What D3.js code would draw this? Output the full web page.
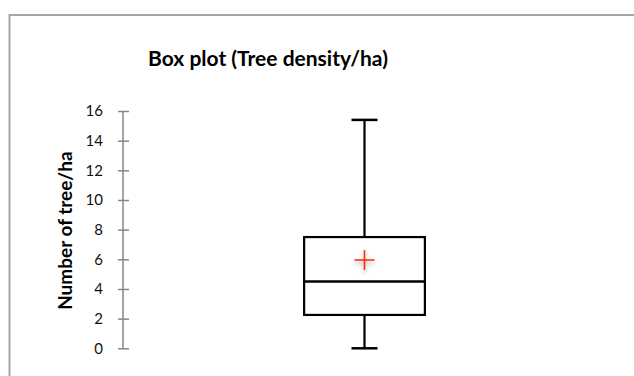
<!DOCTYPE html>
<html lang="en">
<head>
<meta charset="UTF-8">
<title>Box plot (Tree density/ha)</title>
<script src="https://cdn.jsdelivr.net/npm/d3@7"></script>
<style>
  body { margin: 0; background: #fff; font-family: Lato, 'Open Sans', sans-serif; }
  .axis line { stroke: #868686; stroke-width: 1.5px; }
  .axis text { fill: #111; font-size: 15px; font-family: Lato, sans-serif; }
</style>
</head>
<body>
<div id="chart"></div>
<script>
// data
const categories = ['Tree density/ha'];
const minValues = [0];
const q1Values = [2.25];
const medianValues = [4.5];
const q3Values = [7.5];
const maxValues = [15.4];
const meanValues = [5.95];
const yTicks = [0, 2, 4, 6, 8, 10, 12, 14, 16];

const width = 634, height = 376;
const margin = { top: 111, right: 28, bottom: 27, left: 123 };

const svg = d3.select('#chart').append('svg')
    .attr('width', width)
    .attr('height', height);

// soft shadow under the mean marker
const defs = svg.append('defs');
const filter = defs.append('filter').attr('id', 'shadow')
    .attr('x', '-50%').attr('y', '-50%').attr('width', '200%').attr('height', '200%');
filter.append('feGaussianBlur').attr('in', 'SourceAlpha').attr('stdDeviation', 2);
filter.append('feOffset').attr('dy', 3).attr('result', 'blur');
filter.append('feComponentTransfer').append('feFuncA').attr('type', 'linear').attr('slope', 0.35);
const merge = filter.append('feMerge');
merge.append('feMergeNode');
merge.append('feMergeNode').attr('in', 'SourceGraphic');

// chart frame (runs off the right and bottom edges)
svg.append('rect')
    .attr('x', 9.5).attr('y', 15)
    .attr('width', width + 20).attr('height', height + 20)
    .attr('fill', 'none')
    .attr('stroke', '#a6a6a6')
    .attr('stroke-width', 2);

const y = d3.scaleLinear()
    .domain([0, 16])
    .range([height - margin.bottom - 0.7, margin.top]);

const x = d3.scaleBand()
    .domain(categories)
    .range([margin.left, width - margin.right]);

// title
svg.append('text')
    .attr('x', 268)
    .attr('y', 66)
    .attr('text-anchor', 'middle')
    .attr('font-size', 21)
    .attr('font-weight', 'bold')
    .attr('fill', '#000')
    .text('Box plot (Tree density/ha)');

// y axis, ticks cross the line
const yAxis = svg.append('g')
    .attr('class', 'axis')
    .attr('transform', `translate(${margin.left},0)`)
    .call(d3.axisLeft(y).tickValues(yTicks).tickSizeInner(5).tickSizeOuter(0).tickPadding(15));
yAxis.selectAll('.tick line').attr('x1', 6);
yAxis.select('.domain').remove();
yAxis.append('line')
    .attr('x1', 0).attr('x2', 0)
    .attr('y1', y(0)).attr('y2', y(16));

// y axis title
svg.append('text')
    .attr('transform', `translate(72,${(y(0) + y(16)) / 2 + 1}) rotate(-90)`)
    .attr('text-anchor', 'middle')
    .attr('font-size', 19)
    .attr('font-weight', 'bold')
    .attr('fill', '#000')
    .text('Number of tree/ha');

// boxes
const boxFrac = 0.25;
const capWidth = 26;
const boxes = svg.append('g').selectAll('g')
    .data(categories.map((c, i) => ({
        cat: c, min: minValues[i], q1: q1Values[i], med: medianValues[i],
        q3: q3Values[i], max: maxValues[i], mean: meanValues[i]
    })))
    .join('g');

boxes.each(function(d) {
    const g = d3.select(this);
    const cx = x(d.cat) + x.bandwidth() / 2;
    const bw = x.bandwidth() * boxFrac;

    // whiskers + caps
    g.append('line').attr('x1', cx).attr('x2', cx).attr('y1', y(d.q3)).attr('y2', y(d.max)).attr('stroke', '#000').attr('stroke-width', 2.2);
    g.append('line').attr('x1', cx).attr('x2', cx).attr('y1', y(d.q1)).attr('y2', y(d.min)).attr('stroke', '#000').attr('stroke-width', 2.2);
    g.append('line').attr('x1', cx - capWidth / 2).attr('x2', cx + capWidth / 2).attr('y1', y(d.max)).attr('y2', y(d.max)).attr('stroke', '#000').attr('stroke-width', 2.5);
    g.append('line').attr('x1', cx - capWidth / 2).attr('x2', cx + capWidth / 2).attr('y1', y(d.min)).attr('y2', y(d.min)).attr('stroke', '#000').attr('stroke-width', 2.5);

    // box
    g.append('rect')
        .attr('x', cx - bw / 2).attr('y', y(d.q3))
        .attr('width', bw).attr('height', y(d.q1) - y(d.q3))
        .attr('fill', 'none')
        .attr('stroke', '#000').attr('stroke-width', 2.2);

    // median
    g.append('line')
        .attr('x1', cx - bw / 2).attr('x2', cx + bw / 2)
        .attr('y1', y(d.med)).attr('y2', y(d.med))
        .attr('stroke', '#000').attr('stroke-width', 2.5);

    // mean marker
    const m = g.append('g').attr('filter', 'url(#shadow)');
    m.append('path')
        .attr('d', `M${cx - 10},${y(d.mean)}H${cx + 10}M${cx},${y(d.mean) - 10}V${y(d.mean) + 10}`)
        .attr('stroke', '#ff2a00').attr('stroke-width', 1.6);
});
</script>
</body>
</html>
